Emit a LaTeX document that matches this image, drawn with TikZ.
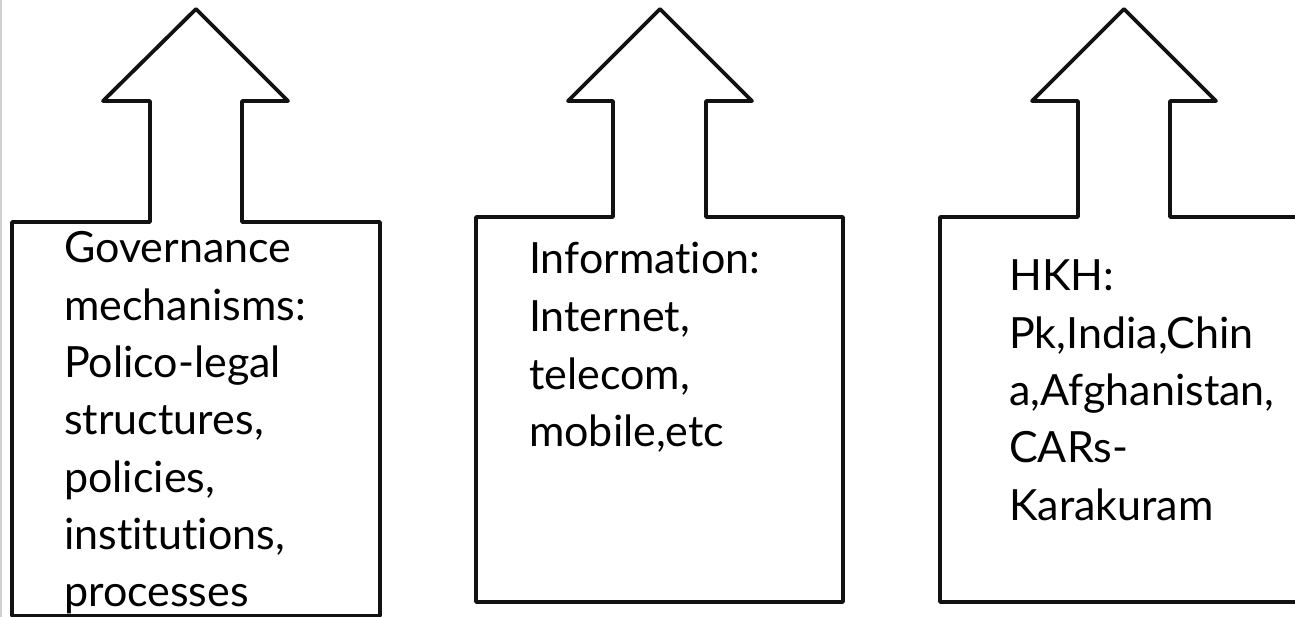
\documentclass[tikz,border=0pt]{standalone}
\usepackage{fontspec}
\setmainfont{Lato}[Ligatures={NoCommon}]
\begin{document}
\begin{tikzpicture}[x=1pt,y=-1pt,
  callout/.style={draw=black!93, line width=3.8pt, line join=round, fill=white},
  lbl/.style={anchor=base west, inner sep=0pt, font=\fontsize{43}{50}\selectfont, text=black}]
\useasboundingbox (0,0) rectangle (1295,617);
\clip (0,0) rectangle (1295,617);
\fill[white] (0,0) rectangle (1295,617);
\draw[black!18, line width=2pt] (1,0) -- (1,617);
% arrow callout 1
\draw[callout] (12,616) -- (12,222) -- (150,222) -- (150,101) -- (103,101) -- (196,9)
  -- (288,101) -- (242,101) -- (242,222) -- (380,222) -- (380,616) -- cycle;
% arrow callout 2
\draw[callout] (476,602) -- (476,217) -- (613,217) -- (613,101) -- (568,101) -- (660,9)
  -- (752,101) -- (706,101) -- (706,217) -- (843,217) -- (843,602) -- cycle;
% arrow callout 3
\draw[callout] (940,602) -- (940,217) -- (1078,217) -- (1078,101) -- (1032,101) -- (1124,9)
  -- (1216,101) -- (1170,101) -- (1170,217) -- (1307,217) -- (1307,602) -- cycle;
% texts
\foreach \t [count=\i] in {Governance,{mechanisms:},{Polico-legal},{structures,},{policies,},{institutions,},processes}
  \node[lbl] (a\i) at (64,{263+57.3*(\i-1)}) {\t};
\foreach \t [count=\i] in {{Information:},{Internet,},{telecom,},{mobile,etc}}
  \node[lbl] (b\i) at (529,{274+57.6*(\i-1)}) {\t};
\foreach \t [count=\i] in {{HKH:},{Pk,India,Chin},{a,Afghanistan,},{CARs-},Karakuram}
  \node[lbl] (c\i) at (1009,{291+57.3*(\i-1)}) {\t};
\end{tikzpicture}
\end{document}
